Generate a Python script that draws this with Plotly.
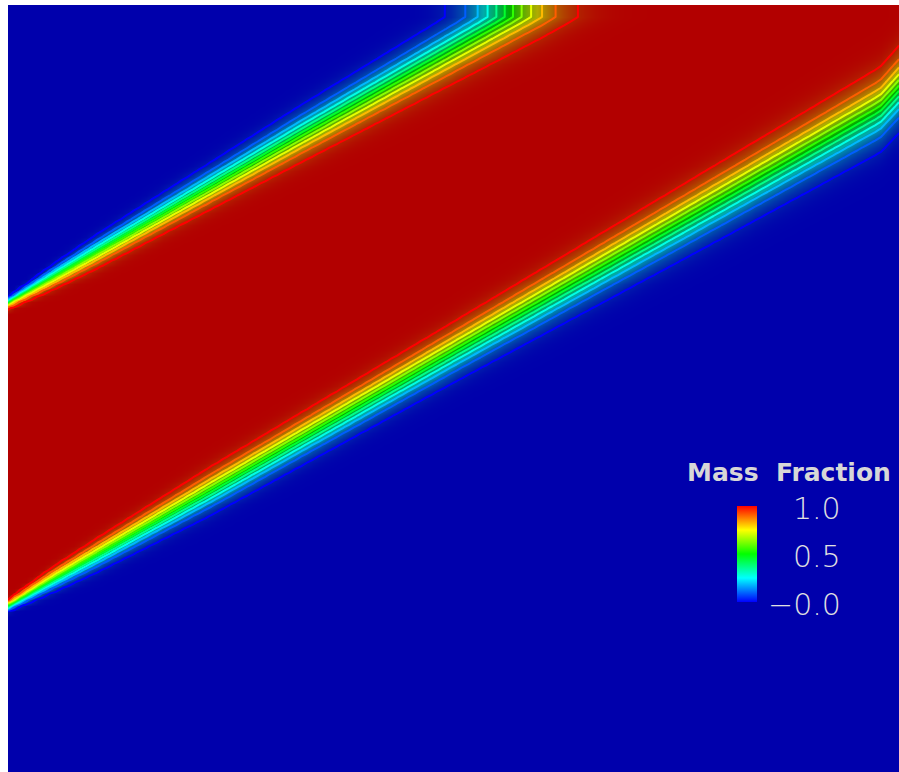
import math
import numpy as np
import plotly.graph_objects as go

# Front positions read along the channel (x, centre height, 5%-95% thickness)
lower_x = [0.0, 0.05, 0.1, 0.227, 0.496, 0.765, 0.979, 1.0]
lower_mid = [0.187, 0.216, 0.244, 0.316, 0.470, 0.623, 0.745, 0.768]
lower_width = [0.013, 0.029, 0.039, 0.056, 0.070, 0.087, 0.099, 0.101]

upper_x = [0.0, 0.05, 0.1, 0.328, 0.6, 1.0]
upper_mid = [0.526, 0.555, 0.584, 0.715, 0.868, 1.103]
upper_width = [0.013, 0.029, 0.039, 0.066, 0.092, 0.115]

# Domain and mesh
x_max, y_max = 1.0, 0.861
y_outflow = 0.847          # field is frozen above this height (outflow layer)
nx, ny = 150, 130

# Colour bar labels
bar_ticks = [1.0, 0.5, 0.0]
bar_labels = ["1.0", "0.5", "\u22120.0"]
bar_title = "Mass\u00a0\u00a0Fraction"

# Contour levels for the iso-lines
level_start, level_end, n_levels = 0.04, 0.95, 12

x = np.linspace(0.0, x_max, nx)
y = np.linspace(0.0, y_max, ny)
X, Y = np.meshgrid(x, y)
Ye = np.minimum(Y, y_outflow)

erf = np.frompyfunc(math.erf, 1, 1)


def front(xq, xs, mids, widths):
    m = np.interp(xq, xs, mids)
    s = np.interp(xq, xs, widths) / 2.48
    return m, s


ml, sl = front(X, lower_x, lower_mid, lower_width)
mu, su = front(X, upper_x, upper_mid, upper_width)
p_low = 0.5 * (1.0 + erf((Ye - ml) / sl).astype(float))
p_up = 0.5 * (1.0 - erf((Ye - mu) / su).astype(float))
Z = p_low * p_up

shaded = [
    [0.0, "rgb(0,0,172)"],
    [0.25, "rgb(0,170,172)"],
    [0.5, "rgb(0,172,0)"],
    [0.75, "rgb(175,172,0)"],
    [1.0, "rgb(178,0,0)"],
]
bright = [
    [0.0, "rgb(0,0,255)"],
    [0.25, "rgb(0,255,255)"],
    [0.5, "rgb(0,255,0)"],
    [0.75, "rgb(255,255,0)"],
    [1.0, "rgb(255,0,0)"],
]

fig = go.Figure()
fig.add_trace(go.Heatmap(
    x=x, y=y, z=Z, zmin=0, zmax=1, colorscale=shaded,
    zsmooth="best", showscale=False, hoverinfo="skip",
))
fig.add_trace(go.Contour(
    x=x, y=y, z=Z, zmin=0, zmax=1, colorscale=bright,
    contours=dict(coloring="lines", start=level_start, end=level_end,
                  size=(level_end - level_start) / (n_levels - 1)),
    line=dict(width=2, smoothing=0), showscale=False, hoverinfo="skip",
))

# colour bar
W, H = 899, 772
ml_px, mt_px = 8, 5
pw, ph = W - ml_px, H - mt_px


def px_x(p):
    return (p - ml_px) / pw


def px_y(p):
    return (H - p) / ph


fig.add_trace(go.Scatter(
    x=[None], y=[None], mode="markers", showlegend=False, hoverinfo="skip",
    marker=dict(color=[0, 1], cmin=0, cmax=1, colorscale=bright, showscale=True,
                colorbar=dict(x=px_x(737), xanchor="left", xpad=0,
                              y=px_y(554), yanchor="middle", ypad=0,
                              len=96, lenmode="pixels", thickness=20,
                              thicknessmode="pixels", outlinewidth=0,
                              ticks="", showticklabels=False)),
))

label_font = dict(family="DejaVu Sans, Roboto", size=30, color="rgb(225,225,225)",
                  weight=200)
annotations = []
for v, t in zip(bar_ticks, bar_labels):
    py = 604 - (604 - 508) * v
    annotations.append(dict(
        x=px_x(843), y=px_y(py), xref="paper", yref="paper", text=t,
        showarrow=False, xanchor="right", yanchor="middle", font=label_font,
    ))
annotations.append(dict(
    x=px_x(789), y=px_y(473), xref="paper", yref="paper", text=bar_title,
    showarrow=False, xanchor="center", yanchor="middle",
    font=dict(family="DejaVu Sans", size=25, color="rgb(215,215,215)", weight="bold"),
))

fig.update_layout(
    width=W, height=H,
    margin=dict(l=ml_px, r=0, t=mt_px, b=0, pad=0),
    paper_bgcolor="white", plot_bgcolor="white",
    xaxis=dict(range=[0, x_max], visible=False, fixedrange=True),
    yaxis=dict(range=[0, y_max], visible=False, fixedrange=True),
    annotations=annotations,
    showlegend=False,
)

fig.write_html("out.html")
